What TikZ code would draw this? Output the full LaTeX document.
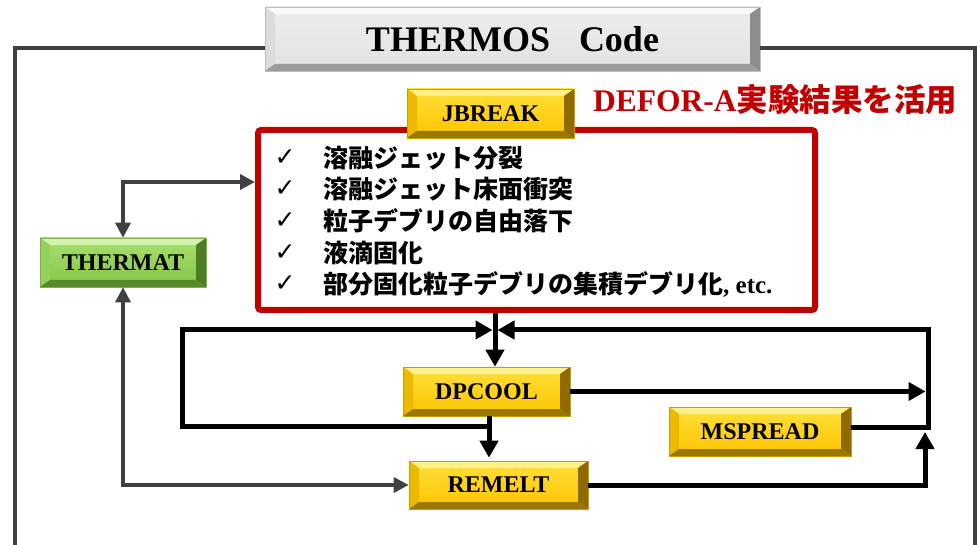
\documentclass[tikz,border=0pt]{standalone}
\usepackage{fontspec}
\setmainfont{Liberation Serif}
\newfontfamily\jp{Noto Sans CJK JP}
\newfontfamily\dvs{DejaVu Sans}
\usetikzlibrary{arrows.meta,calc}
\definecolor{frameg}{HTML}{404040}
\definecolor{redc}{HTML}{C00000}
% gold
\definecolor{gfaceT}{HTML}{FFE03A}
\definecolor{gfaceB}{HTML}{FFC300}
\definecolor{gtop}{HTML}{FFF08A}
\definecolor{gleft}{HTML}{EDB800}
\definecolor{gright}{HTML}{8E6A00}
\definecolor{gbot}{HTML}{9C7700}
\definecolor{gedge}{HTML}{C89E00}
% green
\definecolor{nfaceT}{HTML}{A9E070}
\definecolor{nfaceB}{HTML}{82C444}
\definecolor{ntop}{HTML}{D3F1B0}
\definecolor{nleft}{HTML}{95D05A}
\definecolor{nright}{HTML}{4C7D22}
\definecolor{nbot}{HTML}{568A2A}
\definecolor{nedge}{HTML}{7FB050}
% gray
\definecolor{sfaceT}{HTML}{EDEDED}
\definecolor{sfaceB}{HTML}{E2E2E2}
\definecolor{stop}{HTML}{F9F9F9}
\definecolor{sleft}{HTML}{DCDCDC}
\definecolor{sright}{HTML}{8C8C8C}
\definecolor{sbot}{HTML}{9C9C9C}
\definecolor{sedge}{HTML}{BDBDBD}
\newcommand\bevelfill[4]{%
  \coordinate (pNW) at (path picture bounding box.north west);
  \coordinate (pNE) at (path picture bounding box.north east);
  \coordinate (pSE) at (path picture bounding box.south east);
  \coordinate (pSW) at (path picture bounding box.south west);
  \coordinate (iNW) at ($(pNW)+(10pt,-7pt)$);
  \coordinate (iNE) at ($(pNE)+(-10pt,-7pt)$);
  \coordinate (iSE) at ($(pSE)+(-10pt,7pt)$);
  \coordinate (iSW) at ($(pSW)+(10pt,7pt)$);
  \fill[#1] (pNW) -- (pNE) -- (iNE) -- (iNW) -- cycle;
  \fill[#2] (pNW) -- (iNW) -- (iSW) -- (pSW) -- cycle;
  \fill[#3] (pNE) -- (pSE) -- (iSE) -- (iNE) -- cycle;
  \fill[#4] (pSW) -- (pSE) -- (iSE) -- (iSW) -- cycle;
}
\tikzset{
  boxfont/.style={font=\bfseries\fontsize{24}{24}\selectfont},
  goldbox/.style={rectangle, inner sep=0pt, top color=gfaceT, bottom color=gfaceB,
    draw=gedge, line width=0.6pt, path picture={\bevelfill{gtop}{gleft}{gright}{gbot}}, boxfont},
  greenbox/.style={rectangle, inner sep=0pt, top color=nfaceT, bottom color=nfaceB,
    draw=nedge, line width=0.6pt, path picture={\bevelfill{ntop}{nleft}{nright}{nbot}}, boxfont},
  graybox/.style={rectangle, inner sep=0pt, top color=sfaceT, bottom color=sfaceB,
    draw=sedge, line width=0.8pt, path picture={\bevelfill{stop}{sleft}{sright}{sbot}},
    font=\bfseries\fontsize{36}{36}\selectfont},
  frameline/.style={draw=frameg, line width=4.5pt},
  garrow/.style={draw=frameg, line width=3.5pt, {Triangle[length=15pt,width=15pt]}-{Triangle[length=15pt,width=15pt]}},
  bline/.style={draw=black, line width=5pt},
  barrow/.style={bline, -{Triangle[length=17pt,width=18pt]}},
  item/.style={anchor=west, inner sep=0pt, font=\jp\bfseries\fontsize{25}{25}\selectfont},
  tick/.style={inner sep=0pt, font=\dvs\fontsize{25}{25}\selectfont},
}
\begin{document}
\begin{tikzpicture}[x=1pt,y=-1pt]
\useasboundingbox (0,0) rectangle (980,545);
% title and outer frame
\node[graybox, minimum width=495pt, minimum height=64pt] (title) at (512.5,39) {THERMOS\hspace{29pt}Code};
\draw[frameline] (title.west |- 0,48) -- (15,48) -- (15,550);
\draw[frameline] (title.east |- 0,48) -- (975,48) -- (975,550);
% red box with list
\node[draw=redc, line width=6pt, rounded corners=3pt, minimum width=557pt, minimum height=180pt, inner sep=0pt] (redbox) at (536.5,220) {};
\node[goldbox, minimum width=167pt, minimum height=49pt] (jbreak) at (490.5,113.5) {JBREAK};
\node[anchor=base west, inner sep=0pt, text=redc, font=\bfseries\fontsize{31.5}{31.5}\selectfont] (defor) at (593,112) {DEFOR-A{\jp 実験結果を活用}};
\node[tick] (t1) at (285,158) {✓};
\node[tick] (t2) at (285,189) {✓};
\node[tick] (t3) at (285,221) {✓};
\node[tick] (t4) at (285,253) {✓};
\node[tick] (t5) at (285,284) {✓};
\node[item] (i1) at (323,158) {溶融ジェット分裂};
\node[item] (i2) at (323,189) {溶融ジェット床面衝突};
\node[item] (i3) at (323,221) {粒子デブリの自由落下};
\node[item] (i4) at (323,253) {液滴固化};
\node[item] (i5) at (323,284) {部分固化粒子デブリの集積デブリ化{\rmfamily, etc.}};
% module boxes
\node[greenbox, minimum width=166pt, minimum height=49pt] (thermat) at (123,262.5) {THERMAT};
\node[goldbox, minimum width=167pt, minimum height=49pt] (dpcool) at (486.5,391.5) {DPCOOL};
\node[goldbox, minimum width=179pt, minimum height=48pt] (remelt) at (498.5,485) {REMELT};
\node[goldbox, minimum width=182pt, minimum height=49pt] (mspread) at (760,431.5) {MSPREAD};
% junction coordinates
\coordinate (gt) at (123,182);
\coordinate (jt) at (495,330);
\coordinate (jtl) at (492.5,330);
\coordinate (jtr) at (497.5,330);
\coordinate (jl) at (489,426);
\coordinate (ll) at (182,330);
\coordinate (rt) at (928,330);
\coordinate (rb) at (928,427);
\coordinate (rr) at (925,432);
% gray connectors
\draw[garrow] (redbox.west |- gt) -| (thermat.north);
\draw[garrow] (remelt.west) -| (thermat.south);
% black connectors
\draw[barrow] (redbox.south -| jt) -- (dpcool.north -| jt);
\draw[barrow] (jl) -| (ll) -- (jtl);
\draw[barrow] (dpcool.south -| jl) -- ([yshift=3pt]remelt.north -| jl);
\draw[barrow] (mspread.east |- rb) -- (rb) -- (rt) -- (jtr);
\draw[barrow, shorten >=2.5pt] (dpcool.east) -- (dpcool.east -| rt);
\draw[barrow] (remelt.east) -| (rr);
\end{tikzpicture}
\end{document}
